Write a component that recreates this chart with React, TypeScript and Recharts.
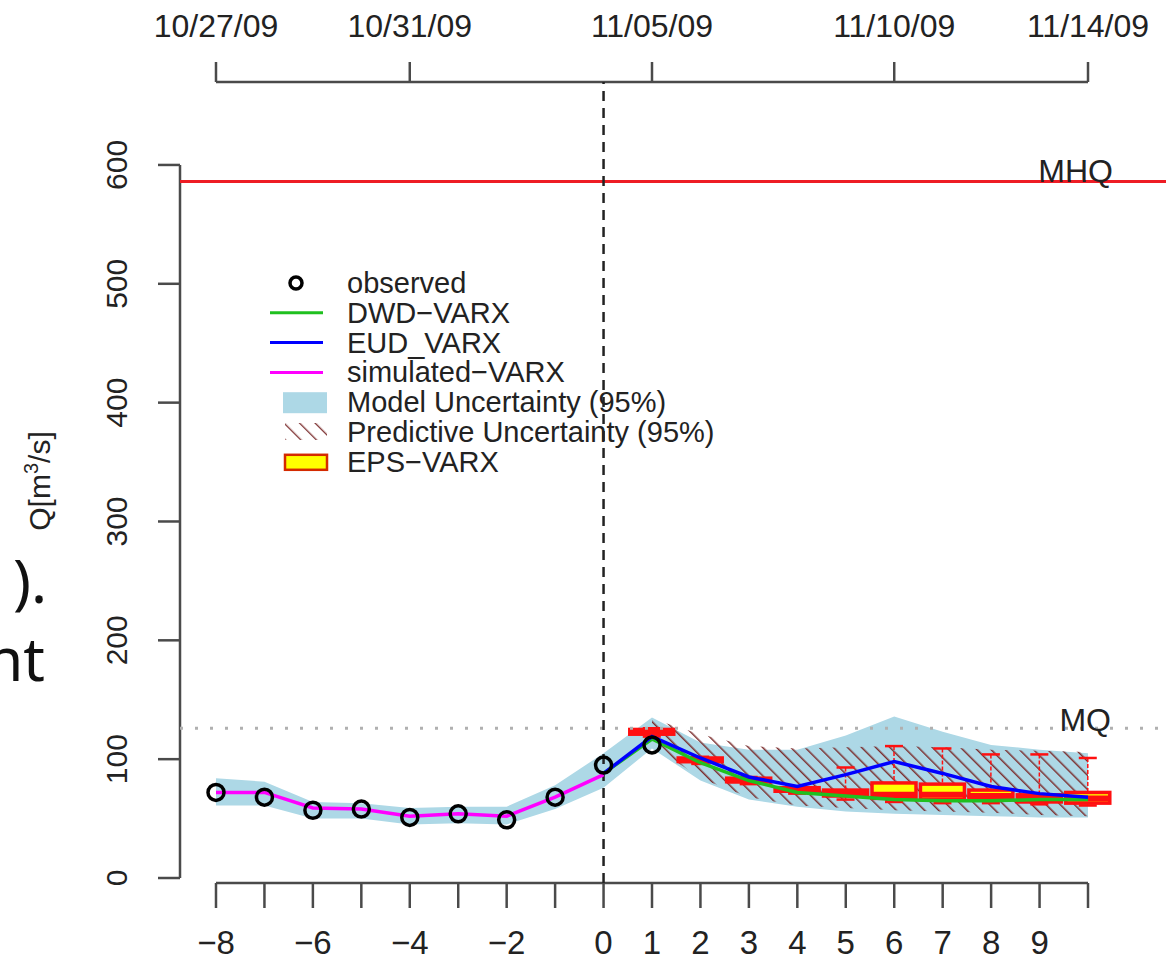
import {
  ComposedChart,
  Area,
  Bar,
  Line,
  XAxis,
  YAxis,
  ReferenceLine,
  Legend,
} from "recharts";

// lead time in days (0 = forecast issue date 11/04/09)
const X_DAYS = [-8, -7, -6, -5, -4, -3, -2, -1, 0, 1, 2, 3, 4, 5, 6, 7, 8, 9, 10];

const OBSERVED = [72, 68, 57, 58, 51, 54, 49, 68, 95, 112, null, null, null, null, null, null, null, null, null];
const SIMULATED = [72, 72, 59, 58, 52, 54, 52, 68, 87, null, null, null, null, null, null, null, null, null, null];
const DWD_VARX = [null, null, null, null, null, null, null, null, 88, 117, 97, 82, 72, 69, 66, 65, 65, 66, 66];
const EUD_VARX = [null, null, null, null, null, null, null, null, 88, 119, 101, 85, 77, 87, 98, 88, 77, 71, 68];

const MODEL_LO = [61, 61, 50, 50, 45, 46, 45, 58, 76, 109, 82, 66, 60, 56, 54, 53, 52, 51, 51];
const MODEL_HI = [84, 81, 64, 63, 59, 60, 60, 78, 105, 135, 114, 108, 108, 120, 136, 123, 112, 108, 105];

const PRED_LO = [null, null, null, null, null, null, null, null, null, 112, 84, 68, 61, 59, 57, 56, 55, 53, 52];
const PRED_HI = [null, null, null, null, null, null, null, null, null, 134, 121, 111, 109, 110, 111, 110, 108, 107, 106];

// EPS-VARX ensemble boxplots, days 1..10
const EPS_WLO = [119, 96, 79, 71, 66, 64, 63, 63, 62, 61];
const EPS_Q1 = [121, 98, 81, 73, 69, 67, 66, 66, 64, 63];
const EPS_MED = [123, 99, 82, 74, 71, 70, 70, 69, 67, 67];
const EPS_Q3 = [125, 101, 84, 76, 74, 80, 79, 74, 70, 72];
const EPS_WHI = [126, 102, 85, 77, 93, 111, 109, 104, 104, 101];

const MHQ = 586;
const MQ = 126;

const BOTTOM_TICKS = X_DAYS;
const BOTTOM_LABELS = ["−8", "", "−6", "", "−4", "", "−2", "", "0", "1", "2", "3", "4", "5", "6", "7", "8", "9", ""];
const TOP_TICKS = [-8, -4, 1, 6, 10];
const TOP_LABELS = ["10/27/09", "10/31/09", "11/05/09", "11/10/09", "11/14/09"];
const Y_TICKS = [0, 100, 200, 300, 400, 500, 600];

const LEGEND = [
  "observed",
  "DWD−VARX",
  "EUD_VARX",
  "simulated−VARX",
  "Model Uncertainty (95%)",
  "Predictive Uncertainty (95%)",
  "EPS−VARX",
];

const X_MIN = -8.743;
const X_MAX = 11.61;
const Y_MIN = -4.2;
const Y_MAX = 669.8;

const FONT = "'Liberation Sans', Arial, sans-serif";
const AXIS = "#4a4a4a";
const GREEN = "#1fc01f";
const BLUE = "#0000ff";
const MAGENTA = "#ff00ff";
const LIGHTBLUE = "#add8e6";
const HATCH = "#7c2f2f";
const RED = "#ff1010";

const rows = X_DAYS.map((x, i) => {
  const e = x >= 1 ? x - 1 : -1;
  return {
    x,
    obs: OBSERVED[i],
    sim: SIMULATED[i],
    dwd: DWD_VARX[i],
    eud: EUD_VARX[i],
    model: [MODEL_LO[i], MODEL_HI[i]],
    pred: PRED_LO[i] == null ? null : [PRED_LO[i], PRED_HI[i]],
    eps: e < 0 ? null : [EPS_WLO[e], EPS_WHI[e]],
    q1: e < 0 ? null : EPS_Q1[e],
    med: e < 0 ? null : EPS_MED[e],
    q3: e < 0 ? null : EPS_Q3[e],
  };
});

function BoxShape(props: any) {
  const { x, y, width, height, payload } = props;
  if (!payload || !payload.eps) return null;
  const [lo, hi] = payload.eps;
  const top = Math.min(y, y + height);
  const h = Math.abs(height);
  const py = (v: number) => top + ((hi - v) / (hi - lo)) * h;
  const cx = x + width / 2;
  const cap = 9;
  return (
    <g>
      <line x1={cx} x2={cx} y1={py(hi)} y2={py(payload.q3)} stroke={RED} strokeWidth={1.5} strokeDasharray="4 2" />
      <line x1={cx} x2={cx} y1={py(payload.q1)} y2={py(lo)} stroke={RED} strokeWidth={1.5} strokeDasharray="4 2" />
      <line x1={cx - cap} x2={cx + cap} y1={py(hi)} y2={py(hi)} stroke={RED} strokeWidth={2.5} />
      <line x1={cx - cap} x2={cx + cap} y1={py(lo)} y2={py(lo)} stroke={RED} strokeWidth={2.5} />
      <rect
        x={x}
        y={py(payload.q3)}
        width={width}
        height={Math.max(py(payload.q1) - py(payload.q3), 1)}
        fill="#ffff00"
        stroke={RED}
        strokeWidth={3.5}
      />
      <line x1={x} x2={x + width} y1={py(payload.med)} y2={py(payload.med)} stroke={RED} strokeWidth={6} />
    </g>
  );
}

const BottomTick = ({ x, y, payload }: any) => {
  const label = BOTTOM_LABELS[BOTTOM_TICKS.indexOf(payload.value)];
  return (
    <text x={x} y={y + 44} textAnchor="middle" fontSize={33} fill="#222" fontFamily={FONT}>
      {label}
    </text>
  );
};

const TopTick = ({ x, y, payload }: any) => (
  <text x={x} y={y - 23} textAnchor="middle" fontSize={32} fill="#222" fontFamily={FONT}>
    {TOP_LABELS[TOP_TICKS.indexOf(payload.value)]}
  </text>
);

const LeftTick = ({ x, y, payload }: any) => (
  <text
    transform={`translate(${x - 29}, ${y}) rotate(-90)`}
    textAnchor="middle"
    fontSize={30}
    fill="#222"
    fontFamily={FONT}
  >
    {payload.value}
  </text>
);

function LegendBox() {
  const rowY = (i: number) => 23 + i * 29.8;
  return (
    <svg width={480} height={220} style={{ display: "block" }}>
      <defs>
        <pattern id="hatchLegend" width="11" height="11" patternUnits="userSpaceOnUse" patternTransform="rotate(-45)">
          <line x1="0" y1="0" x2="0" y2="11" stroke={HATCH} strokeWidth={2.6} />
        </pattern>
      </defs>
      <circle cx={36} cy={rowY(0)} r={6} fill="none" stroke="#000" strokeWidth={3.5} />
      <line x1={10} x2={63} y1={rowY(1)} y2={rowY(1)} stroke={GREEN} strokeWidth={3} />
      <line x1={10} x2={63} y1={rowY(2)} y2={rowY(2)} stroke={BLUE} strokeWidth={3} />
      <line x1={10} x2={63} y1={rowY(3)} y2={rowY(3)} stroke={MAGENTA} strokeWidth={3} />
      <rect x={23} y={rowY(4) - 10} width={44} height={21} fill={LIGHTBLUE} />
      <rect x={25} y={rowY(5) - 9} width={42} height={17} fill="url(#hatchLegend)" />
      <rect x={25} y={rowY(6) - 7} width={42} height={15} fill="#ffff00" stroke="#d42a00" strokeWidth={2.5} />
      {LEGEND.map((t, i) => (
        <text key={t} x={87} y={rowY(i) + 10} fontSize={29} fill="#222" fontFamily={FONT}>
          {t}
        </text>
      ))}
    </svg>
  );
}

export default function App() {
  return (
    <div style={{ position: "absolute", left: 0, top: 0, width: 1166, height: 965, background: "#fff" }}>
      <ComposedChart width={1166} height={965} data={rows} margin={{ top: 0, right: 0, bottom: 0, left: 120 }}>
        <defs>
          <pattern id="hatch" width="10" height="10" patternUnits="userSpaceOnUse" patternTransform="rotate(-45)">
            <line x1="0" y1="0" x2="0" y2="10" stroke={HATCH} strokeWidth={3} />
          </pattern>
        </defs>
        <XAxis
          xAxisId={0}
          dataKey="x"
          type="number"
          domain={[X_MIN, X_MAX]}
          allowDataOverflow
          ticks={BOTTOM_TICKS}
          interval={0}
          height={82}
          axisLine={false}
          tickSize={25}
          tickLine={{ stroke: AXIS, strokeWidth: 2.5 }}
          tick={<BottomTick />}
        />
        <XAxis
          xAxisId="top"
          orientation="top"
          dataKey="x"
          type="number"
          domain={[X_MIN, X_MAX]}
          allowDataOverflow
          ticks={TOP_TICKS}
          interval={0}
          height={82}
          axisLine={false}
          tickSize={20}
          tickLine={{ stroke: AXIS, strokeWidth: 2.5 }}
          tick={<TopTick />}
        />
        <YAxis
          type="number"
          domain={[Y_MIN, Y_MAX]}
          allowDataOverflow
          ticks={Y_TICKS}
          interval={0}
          width={60}
          axisLine={false}
          tickSize={22}
          tickLine={{ stroke: AXIS, strokeWidth: 2.5 }}
          tick={<LeftTick />}
          label={() => (
            <text transform="translate(50, 481) rotate(-90)" textAnchor="middle" fontSize={30} fill="#222" fontFamily={FONT}>
              Q[m
              <tspan dy={-12} fontSize={20}>3</tspan>
              <tspan dy={12}>/s]</tspan>
            </text>
          )}
        />

        {/* R-style detached axis lines */}
        <ReferenceLine segment={[{ x: -8, y: Y_MIN }, { x: 10, y: Y_MIN }]} stroke={AXIS} strokeWidth={2.5} ifOverflow="visible" />
        <ReferenceLine segment={[{ x: -8, y: Y_MAX }, { x: 10, y: Y_MAX }]} stroke={AXIS} strokeWidth={2.5} ifOverflow="visible" />
        <ReferenceLine segment={[{ x: X_MIN, y: 0 }, { x: X_MIN, y: 600 }]} stroke={AXIS} strokeWidth={2.5} ifOverflow="visible" />

        <Area dataKey="model" type="linear" stroke="none" fill={LIGHTBLUE} fillOpacity={1} isAnimationActive={false} />
        <Area dataKey="pred" type="linear" stroke="none" fill="url(#hatch)" fillOpacity={1} isAnimationActive={false} />

        <ReferenceLine
          y={MQ}
          stroke="#b0b0b0"
          strokeWidth={3}
          strokeDasharray="3 12"
          label={(p: any) => (
            <text x={p.viewBox.x + p.viewBox.width - 55} y={p.viewBox.y + 3} textAnchor="end" fontSize={32} fill="#222" fontFamily={FONT}>
              MQ
            </text>
          )}
        />
        <ReferenceLine
          y={MHQ}
          stroke="#ee1c24"
          strokeWidth={3}
          label={(p: any) => (
            <text x={p.viewBox.x + p.viewBox.width - 53} y={p.viewBox.y} textAnchor="end" fontSize={32} fill="#222" fontFamily={FONT}>
              MHQ
            </text>
          )}
        />
        <ReferenceLine x={0} stroke="#222" strokeWidth={2.5} strokeDasharray="10 7" />

        <Line
          dataKey="obs"
          stroke="none"
          dot={{ r: 8, stroke: "#000", strokeWidth: 3.5, fill: "none" }}
          isAnimationActive={false}
        />
        <Bar dataKey="eps" barSize={44} shape={<BoxShape />} isAnimationActive={false} />
        <Line dataKey="dwd" type="linear" stroke={GREEN} strokeWidth={3.5} dot={false} isAnimationActive={false} />
        <Line dataKey="eud" type="linear" stroke={BLUE} strokeWidth={3.5} dot={false} isAnimationActive={false} />
        <Line dataKey="sim" type="linear" stroke={MAGENTA} strokeWidth={3.5} dot={false} isAnimationActive={false} />

        <Legend
          layout="vertical"
          align="center"
          verticalAlign="middle"
          wrapperStyle={{ left: 260, top: 260, width: 480, height: 220 }}
          content={() => <LegendBox />}
        />
      </ComposedChart>

      <svg width={120} height={965} style={{ position: "absolute", left: 0, top: 0, pointerEvents: "none" }}>
        <text x={47} y={603} textAnchor="end" fontSize={60} fill="#111" fontFamily="'Noto Sans', sans-serif">
          ).
        </text>
        <text x={45} y={681} textAnchor="end" fontSize={60} fill="#111" fontFamily="'Noto Sans', sans-serif">
          nt
        </text>
      </svg>
    </div>
  );
}
